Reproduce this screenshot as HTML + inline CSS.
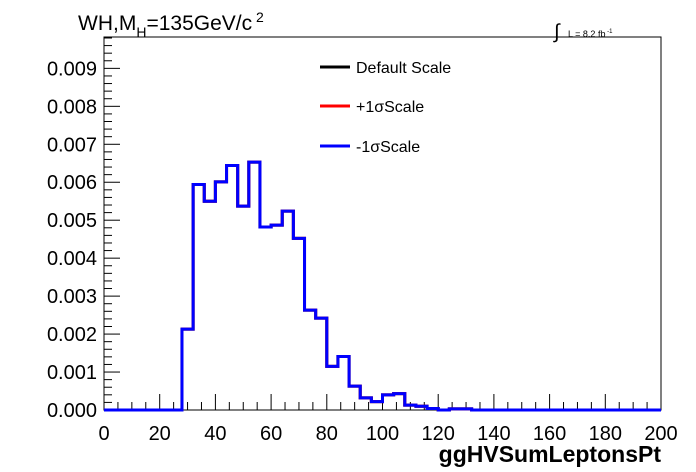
<!DOCTYPE html>
<html><head><meta charset="utf-8"><style>
body{margin:0;background:#fff;}
svg{display:block;font-family:"Liberation Sans",sans-serif;}
</style></head><body>
<svg id="c" width="696" height="472">
<rect width="696" height="472" fill="#fff"/>
<text x="78" y="30" font-size="21">WH,M<tspan font-size="14" dy="7">H</tspan><tspan dy="-7">=135GeV/c</tspan><tspan font-size="14" dy="-8"> 2</tspan></text>
<text x="554" y="38" font-size="20">∫</text>
<text x="568" y="37" font-size="9">L = 8.2 fb<tspan font-size="6" dy="-4"> -1</tspan></text>
<g id="axes"></g>
<g id="series"></g>
<g>
<line x1="320" y1="67" x2="350" y2="67" stroke="#000" stroke-width="3"/>
<text x="356" y="73" font-size="16">Default Scale</text>
<line x1="320" y1="106" x2="350" y2="106" stroke="#f00" stroke-width="3"/>
<text x="356" y="112" font-size="16">+1σScale</text>
<line x1="320" y1="146" x2="350" y2="146" stroke="#00f" stroke-width="3"/>
<text x="356" y="152" font-size="16">-1σScale</text>
</g>
<text x="661" y="462" font-size="23" font-weight="bold" text-anchor="end">ggHVSumLeptonsPt</text>
</svg>
<script>
const binEdgesStart = 0;
const binWidth = 4;
const defaultVals = [0,0,0,0,0,0,0,0.00213,0.00594,0.00550,0.00601,0.00644,0.00537,0.00653,0.00482,0.00487,0.00524,0.00452,0.00263,0.00242,0.00115,0.00141,0.00063,0.00032,0.00022,0.00040,0.00043,0.00013,0.00010,0.00004,0,0.00003,0.00003,0,0,0,0,0,0,0,0,0,0,0,0,0,0,0,0,0];
const plusVals = defaultVals.slice();
const minusVals = defaultVals.slice();
const xTicks = [0,20,40,60,80,100,120,140,160,180,200];
const yTicks = ["0.000","0.001","0.002","0.003","0.004","0.005","0.006","0.007","0.008","0.009"];
const X0=104,X1=661,Y0=410,YT=37,XMAX=200,YPER=37.96;
const xs=v=>X0+(v/XMAX)*(X1-X0);
const ys=v=>Y0-v*1000*YPER;
const NS="http://www.w3.org/2000/svg";
const ax=document.getElementById('axes');
function mk(t,a,p){const e=document.createElementNS(NS,t);for(const k in a)e.setAttribute(k,a[k]);p.appendChild(e);return e;}
const fr=mk('rect',{x:X0,y:YT,width:X1-X0,height:Y0-YT,fill:'none',stroke:'#000','stroke-width':1},ax);


for(let v=0;v<=XMAX;v+=5){const maj=v%20===0;const t=mk('line',{x1:xs(v),x2:xs(v),y1:Y0,y2:Y0-(maj?16:8),stroke:'#000'},ax);

}
xTicks.forEach(v=>{const t=mk('text',{x:xs(v),y:440,'font-size':20,'text-anchor':'middle'},ax);t.textContent=v;

});
for(let i=0;i*0.0002<=0.0098;i++){const v=i*0.0002;const maj=i%5===0;const y=ys(v);if(y<YT)break;const t=mk('line',{x1:X0,x2:X0+(maj?16:8),y1:y,y2:y,stroke:'#000'},ax);

}
yTicks.forEach(s=>{const t=mk('text',{x:97,y:ys(parseFloat(s))+7,'font-size':20,'text-anchor':'end'},ax);t.textContent=s;

});
const sg=document.getElementById('series');
function draw(vals,col,name){let d='M'+xs(binEdgesStart)+','+ys(vals[0]);
vals.forEach((v,i)=>{const a=binEdgesStart+i*binWidth;d+=' L'+xs(a)+','+ys(v)+' L'+xs(a+binWidth)+','+ys(v);});
const p=mk('path',{d:d,fill:'none',stroke:col,'stroke-width':3},sg);

}
draw(defaultVals,'#000','series-default-scale');
draw(plusVals,'#f00','series-plus1sigma-scale');
draw(minusVals,'#00f','series-minus1sigma-scale');
</script>
</body></html>
